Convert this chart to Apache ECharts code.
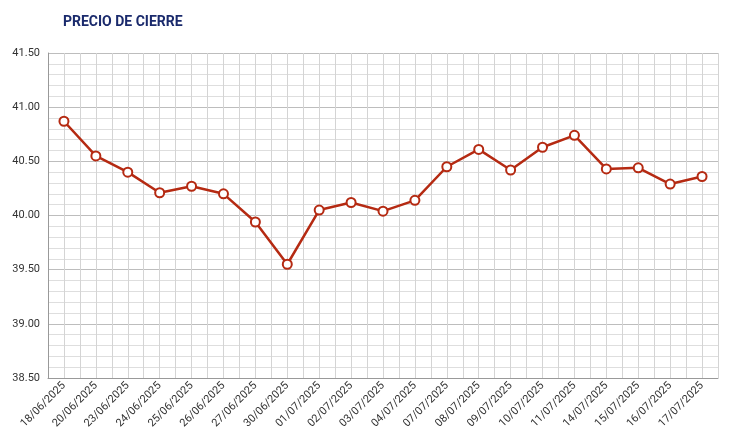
<!DOCTYPE html>
<html>
<head>
<meta charset="utf-8">
<script src="https://cdn.jsdelivr.net/npm/echarts@6/dist/echarts.min.js"></script>
<style>html,body{margin:0;padding:0;background:#fff}#c{width:730px;height:444px}</style>
</head>
<body>
<div id="c"></div>
<script>
var fechas = ['18/06/2025','20/06/2025','23/06/2025','24/06/2025','25/06/2025','26/06/2025','27/06/2025','30/06/2025','01/07/2025','02/07/2025','03/07/2025','04/07/2025','07/07/2025','08/07/2025','09/07/2025','10/07/2025','11/07/2025','14/07/2025','15/07/2025','16/07/2025','17/07/2025'];
var cierre = [40.87,40.55,40.40,40.21,40.27,40.20,39.94,39.55,40.05,40.12,40.04,40.14,40.45,40.61,40.42,40.63,40.74,40.43,40.44,40.29,40.36];

var chart = echarts.init(document.getElementById('c'));
chart.setOption({
    animation: false,
    title: {
        text: 'PRECIO DE CIERRE', left: 58, top: 10,
        textStyle: {color: '#1a2a6c', fontSize: 14, fontWeight: 'bold', fontFamily: 'Roboto'}
    },
    grid: {left: 48, right: 12, top: 53, bottom: 66},
    xAxis: [{
        type: 'category',
        data: fechas,
        boundaryGap: true,
        axisLine: {lineStyle: {color: '#999'}},
        axisTick: {show: false},
        axisLabel: {rotate: 45, interval: 0, fontSize: 11, color: '#333', fontFamily: 'Roboto', margin: 6},
        splitLine: {show: false}
    }, {
        type: 'value', min: 0, max: fechas.length * 2, interval: 1,
        show: true, position: 'bottom',
        axisLine: {show: false}, axisTick: {show: false}, axisLabel: {show: false},
        splitLine: {show: true, lineStyle: {color: '#d4d4d4'}}
    }],
    yAxis: {
        type: 'value', min: 38.5, max: 41.5, interval: 0.5,
        axisLine: {show: true, lineStyle: {color: '#999'}},
        axisTick: {show: false},
        axisLabel: {formatter: function (v) { return v.toFixed(2); }, fontSize: 11, color: '#333', fontFamily: 'Roboto'},
        splitLine: {lineStyle: {color: '#bdbdbd'}},
        minorTick: {show: false, splitNumber: 5},
        minorSplitLine: {show: true, lineStyle: {color: '#dedede'}}
    },
    series: [{
        type: 'line',
        data: cierre,
        xAxisIndex: 0,
        symbol: 'circle', symbolSize: 9,
        lineStyle: {color: '#b52a12', width: 2.5},
        itemStyle: {color: '#fff', borderColor: '#b52a12', borderWidth: 2}
    }]
});
</script>
</body>
</html>
